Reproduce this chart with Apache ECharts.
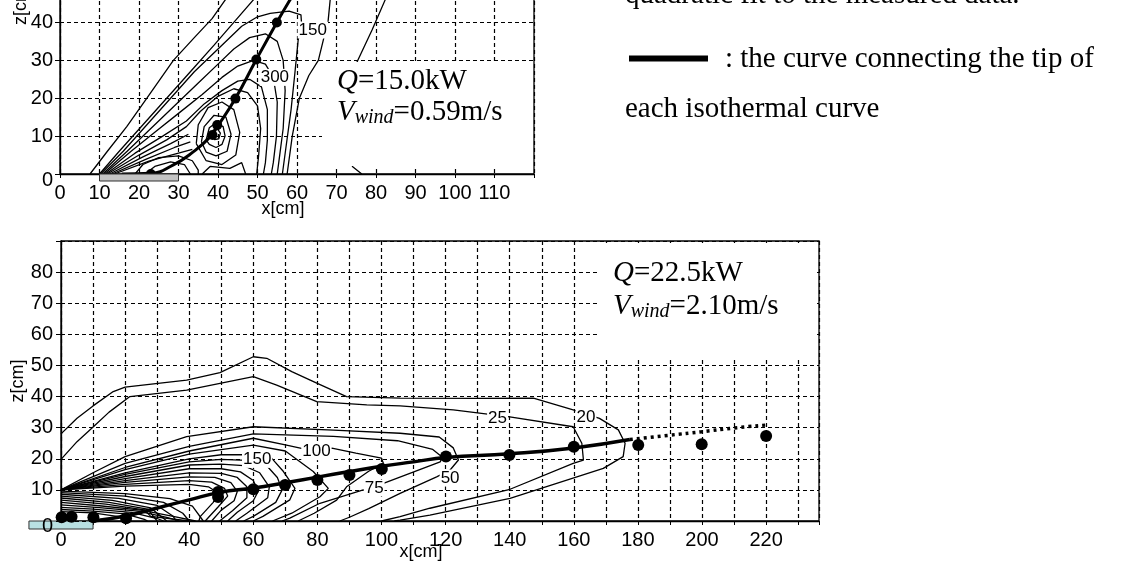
<!DOCTYPE html>
<html><head><meta charset="utf-8">
<script src="https://cdn.jsdelivr.net/npm/echarts@6/dist/echarts.min.js"></script>
<style>html,body{margin:0;padding:0;background:#fff}#c{width:1130px;height:571px}</style>
</head><body><div id="c"></div>
<script>
// ================= DATA =================
// tick labels
const topXTickLabels = [0,10,20,30,40,50,60,70,80,90,100,110];
const topZTickLabels = [0,10,20,30,40,50,60,70,80];
const botXTickLabels = [0,20,40,60,80,100,120,140,160,180,200,220];
const botZTickLabels = [0,10,20,30,40,50,60,70,80];

// top panel (Q=15.0kW, Vwind=0.59m/s) : isothermal curves [x cm, z cm]
const topContours = [
  [[7.6,0],[12,6],[16.9,12.5],[22,20],[28.7,30],[34,36],[38.5,41],[41.8,45.9],[45,50]],
  [[10,0],[15,6],[21,13],[27,20],[33,27],[39,34],[44,40],[48.9,45.9],[52,50]],
  [[10.3,0],[16,6],[22,13],[28,20],[34,27],[40,33],[46,39],[50,41.5],[53.2,42.4],[58,43],[61,42],[61.2,39],[60.3,35.4],[59.5,27],[58.5,17],[57.2,7],[56.3,0]],
  [[57.5,0],[58.8,10],[60.6,20],[63,26],[65.4,30],[67.9,40.6],[68.4,46],[68,52]],
  [[10.8,0],[17,6],[23,12],[29,18],[35,24],[40,29],[44,33],[48,36],[52,37],[55,35],[56.5,30],[57,22],[56.5,12],[55.5,4],[55,0]],
  [[11.2,0],[18,6],[24,11],[30,16],[36,21],[41,25.5],[45,28.5],[49,30],[52,29],[54,25.5],[55,19],[54.8,10],[54,3],[53.5,0]],
  [[11.6,0],[19,5.5],[26,10],[32,14],[36.5,18.5],[41,22],[45,24.5],[48,25],[51,23],[52.5,17],[52.5,9],[52,3],[51.5,0]],
  [[12,0],[20,5],[27,9],[32,12.5],[35.5,16.5],[40,20.5],[44,22.5],[47.5,21.5],[50,18],[50.8,12],[50.3,5],[49.8,0]],
  [[12.6,0],[21,4.5],[28,8],[32.5,10.5]],
  [[13.2,0],[22,4],[29,7],[33,8.5]],
  [[13.8,0],[22.5,3.4],[30,5.5],[33.5,6.5]],
  [[34.5,8],[35,13],[37.5,17.5],[41,19],[44,17],[45.5,11],[44.5,5],[41,2.5],[37,3.5],[34.5,8]],
  [[35.8,8.5],[36.5,12.5],[39,15.5],[42,15],[43.3,10.5],[42.3,6],[39.5,4.8],[37,5.8],[35.8,8.5]],
  [[37,9],[37.8,12.2],[39.5,13.5],[41.3,12.5],[41.8,10],[41,7.8],[39.5,7],[37.8,7.8],[37,9]],
  [[38.3,10],[38.8,11.6],[39.8,12],[40.6,10.8],[40.2,9.3],[39.1,9.1],[38.3,10]],
  [[19,0],[21,2.5],[25,4.3],[30,4.8],[33.5,3.5],[35,1],[35,0]],
  [[21.5,0],[24,2],[28,3.2],[31.5,2.5],[33,0]],
  [[36,0],[38,2],[43,1.5],[46,3],[47,0]],
  [[76.4,0],[74.1,1.9],[72,6],[71,14],[72,22],[75.4,30],[79,38],[82.3,45.9],[85,52]]
];
const topContourLabels = [['150',64,38],['300',54.4,25.5]];
const topTipPoints = [[23,0],[38.6,10.3],[39.8,12.9],[44.4,19.9],[49.7,30.2],[54.9,40.0]];
const topTipCurve = [[15.6,0],[23,0.2],[28.7,2.4],[33.8,5.9],[38,9.8],[40.1,12.9],[44.4,19.9],[49.7,30.2],[54.9,40],[58.2,45.9],[61,50.5]];
const topBurner = [[10,30]];

// bottom panel (Q=22.5kW, Vwind=2.10m/s)
const botContours = [
  [[0,28],[5,33],[10,37],[16.3,41.6],[20,43],[39.2,45.3],[49.6,47.7],[60,52.8],[64.2,52.3],[72,48],[79.8,44.3],[89.1,40],[105.8,39.5],[130,39.4],[147.4,39.5],[159.8,35.7],[168,33],[173.9,29.3],[176,25],[175.4,20.7],[169.2,16.9],[140.1,7.3],[115.1,1.9],[105.8,0.3],[104,0]],
  [[0,19.8],[5,25.5],[10.1,30.3],[15,35],[21.5,40],[39.2,42.1],[60,46.4],[67.3,43.7],[79.8,38.4],[95.4,37.3],[105.8,37],[122.4,35.7],[140,33.5],[159.8,30.3],[162.5,25],[163,19.6],[159.8,18.5],[140.1,10.2],[115.1,4.1],[105.8,1.4],[100,0]],
  [[0,10],[10,15.5],[20,20.7],[39.2,27.1],[60,30.3],[85,29.2],[105.8,28.2],[118,27],[122.4,23.5],[124,19.6],[121.4,16.4],[117.2,14.2],[105.8,8.9],[96,4],[90,1.2],[87,0]],
  [[0,10],[20,18.5],[40,24],[60,28],[85,27.2],[105,25.8],[116,23],[119,20.5],[118.3,19],[100.6,12.1],[97.7,10.6],[94.3,10],[80.8,5.7],[71.4,0.9],[69,0]],
  [[0,10],[20,17.2],[40,22.5],[60,26.6],[70,24.5],[79.7,22.3],[84.5,23.4],[92,21.8],[100,20.2],[100.6,18.5],[96,16],[89.1,11],[86,6.7],[79,2.5],[74,0]],
  [[0,10],[20,16.5],[40,21.5],[60,24.4],[70,22.5],[78.7,15.9],[83.4,10.5],[80.8,7.8],[72,2.5],[66,0]],
  [[0,10],[20,15.5],[40,20],[50,21.3],[58,21.3],[65.7,20.2],[69.4,15.9],[73,10.5],[71.4,6.8],[63,1.5],[60,0]],
  [[0,10],[20,15],[40,19],[50,19.8],[58,19.5],[64,18],[67.5,14],[69,10],[67,6],[60,1.5],[57,0]],
  [[0,10],[20,14.3],[40,18],[50,18.3],[57,17.8],[62,15.5],[65,11],[64.5,7.5],[58,2.5],[54.5,0]],
  [[0,10],[20,13.6],[40,16.8],[50,16.8],[56,15.8],[60,13],[61.5,9.5],[60,6.5],[55,2.8],[52,0]],
  [[0,10],[20,13],[40,15.5],[50,15.3],[55,14],[58,11],[58,7.5],[53.5,3.3],[49.5,0]],
  [[0,10],[20,12.4],[40,14.2],[48,14],[53,12.3],[55,9.5],[54,6.5],[50,3.5],[47,0]],
  [[0,10],[20,11.8],[40,13],[47,12.5],[51,10.5],[52,8],[49,4.5],[45,0]],
  [[0,10],[20,11.2],[40,11.8],[46,11],[49,9],[47.5,6],[43.5,1.5],[43,0]],
  [[0,9.6],[20,8.8],[34,7.2],[41,4.8],[44.4,0]],
  [[0,9.1],[20,8],[32,6],[38,2.5],[40,0]],
  [[0,8.6],[18,7.3],[30,5],[35,1.5],[36,0]],
  [[0,8],[16,6.6],[28,4.2],[33,0]],
  [[0,7.4],[15,6],[27,3.8],[30,0]],
  [[0,6.7],[14,5.4],[26,3.6],[28,1.5],[40,0]],
  [[0,6],[12,4.9],[25,3.5],[35,1.5],[42,0]],
  [[0,5.2],[12,4.3],[24,3.2],[33,1.2],[37,0]],
  [[0,4.4],[10,3.8],[22,2.8],[30,0.8],[32,0]],
  [[0,3.7],[10,3.2],[20,2.3],[26,0.5],[27,0]],
  [[0,3],[10,2.6],[18,1.4],[22,0]]
];
const botContourLabels = [['20',163.8,33.4],['25',136.2,33],['100',79.7,22.3],['150',61.2,19.8],['75',97.7,10.6],['50',121.4,13.8]];
const botTipPoints = [[0.2,1.2],[3.3,1.4],[10.1,1.2],[20.3,0.9],[49,9.3],[49,7.7],[60,10.2],[69.9,11.6],[80,13.2],[90,14.8],[100.1,16.7],[120.1,20.7],[139.9,21.2],[160,23.9],[180.1,24.4],[199.9,24.7],[220,27.3]];
const botTipCurve = [[10,0],[20,1.6],[30,4.2],[40,6.8],[49.6,9.2],[60,10.6],[70,12.3],[80,14.1],[90,15.9],[100,17.6],[110,19],[120,20.4],[140,21.6],[160,23.5],[177.5,26.2]];
const botExtrapolation = [[177.5,26.2],[190,27.6],[199.9,28.7],[210,29.9],[220.7,30.9]];
const botBurner = [[-10,10]];

// texts
const topCaseText = ['{i|Q}{n|=15.0kW}', '{i|V}{s|wind}{n|=0.59m/s}'];
const botCaseText = ['{i|Q}{n|=22.5kW}', '{i|V}{s|wind}{n|=2.10m/s}'];
const noteLines = ['quadratic fit to the measured data.', ': the curve connecting the tip of', 'each isothermal curve'];

// ================= CHART =================
const chart = echarts.init(document.getElementById('c'), null, {renderer:'canvas'});
const TICK_FONT = "'Liberation Sans Narrow','Arial Narrow','Liberation Sans',Arial,sans-serif";
const SANS = "'Liberation Sans',Arial,sans-serif";
const SERIF = "'Liberation Serif','Times New Roman',serif";
const CONTOUR_W = 1.3;

function xAxisCfg(gridIndex, max, labels, nameGap, namePad) {
  return {
    type:'value', gridIndex, min:0, max, interval:10,
    name:'x[cm]', nameLocation:'middle', nameGap, nameMoveOverlap:false,
    nameTextStyle:{fontFamily:SANS, fontSize:18, color:'#000', padding:namePad},
    axisLine:{show:true, lineStyle:{color:'#000', width:1.3}},
    axisTick:{show:true, length:4, inside:false, lineStyle:{color:'#000'}},
    axisLabel:{margin:9, color:'#000', fontFamily:TICK_FONT, fontSize:20,
      formatter:v => labels.includes(v) ? String(v) : ''},
    splitLine:{show:true, lineStyle:{color:'#000', width:1.2, type:[4,3]}}
  };
}
function yAxisCfg(gridIndex, labels, nameGap, zeroPad, margin, z) {
  return {
    type:'value', gridIndex, min:0, max:90, interval:10, z,
    name:'z[cm]', nameLocation:'middle', nameGap, nameMoveOverlap:false,
    nameTextStyle:{fontFamily:SANS, fontSize:18, color:'#000'},
    axisLine:{show:true, lineStyle:{color:'#000', width:1.3}},
    axisTick:{show:true, length:5, inside:false, lineStyle:{color:'#000'}},
    axisLabel:{margin, color:'#000', fontFamily:TICK_FONT, fontSize:20,
      formatter:v => v === 0 ? '{o|0}' : (labels.includes(v) ? String(v) : ''),
      rich:{o:{fontFamily:TICK_FONT, fontSize:20, color:'#000', padding:[zeroPad,0,0,0]}}},
    splitLine:{show:true, lineStyle:{color:'#000', width:1.2, type:[4,3]}}
  };
}

const series = [];
function addContours(list, gi, w) {
  list.forEach(c => series.push({type:'line', xAxisIndex:gi, yAxisIndex:gi, data:c,
    symbol:'none', smooth:false, silent:true, lineStyle:{color:'#000', width:w}, z:2}));
}
addContours(topContours, 0, CONTOUR_W);
addContours(botContours, 1, CONTOUR_W);

function addLabels(list, gi) {
  series.push({type:'scatter', xAxisIndex:gi, yAxisIndex:gi, symbolSize:1,
    itemStyle:{color:'#fff', opacity:1}, silent:true, z:4,
    data:list.map(l => ({value:[l[1], l[2]], name:l[0]})),
    label:{show:true, position:'inside', formatter:p => p.name, color:'#000', opacity:1,
      fontFamily:SANS, fontSize:17, backgroundColor:'#fff', padding:[0,1]}});
}
addLabels(topContourLabels, 0);
addLabels(botContourLabels, 1);

// curves through the tips
series.push({type:'line', xAxisIndex:0, yAxisIndex:0, data:topTipCurve, symbol:'none', smooth:true,
  lineStyle:{color:'#000', width:3}, z:5});
series.push({type:'line', xAxisIndex:1, yAxisIndex:1, data:botTipCurve, symbol:'none', smooth:true,
  lineStyle:{color:'#000', width:3.5}, z:5});
series.push({type:'line', xAxisIndex:1, yAxisIndex:1, data:botExtrapolation, symbol:'none', smooth:true,
  lineStyle:{color:'#000', width:3.5, type:[3,4]}, z:5});
// measured tip points
series.push({type:'scatter', xAxisIndex:0, yAxisIndex:0, data:topTipPoints, symbol:'circle', symbolSize:10,
  itemStyle:{color:'#000', opacity:1}, z:6});
series.push({type:'scatter', xAxisIndex:1, yAxisIndex:1, data:botTipPoints, symbol:'circle', symbolSize:12,
  itemStyle:{color:'#000', opacity:1}, z:6});

// burners
function burner(data, gi, fill, depth, z) {
  return {type:'custom', xAxisIndex:gi, yAxisIndex:gi, clip:false, data, z, silent:true,
    renderItem:(params, api) => {
      const p0 = api.coord([api.value(0), 0]);
      const p1 = api.coord([api.value(1), 0]);
      return {type:'rect', shape:{x:p0[0], y:p0[1], width:p1[0]-p0[0], height:depth},
        style:{fill, stroke:'#333', lineWidth:1}};
    }};
}
series.push(burner(topBurner, 0, '#c4c4c4', 7, 7));
series.push(burner(botBurner, 1, '#b9e0e2', 8, 1));

const caseRich = {
  i:{fontFamily:SERIF, fontStyle:'italic', fontSize:29, color:'#000', lineHeight:32},
  s:{fontFamily:SERIF, fontStyle:'italic', fontSize:20, color:'#000', lineHeight:20, verticalAlign:'bottom'},
  n:{fontFamily:SERIF, fontSize:29, color:'#000', lineHeight:32}
};
function caseText(x, y, t) {
  return {type:'text', x, y, z:100, style:{text:t, rich:caseRich, verticalAlign:'top', align:'left'}};
}

chart.setOption({
  animation:false,
  backgroundColor:'#fff',
  grid:[
    {left:60, top:-167, width:474, height:341, show:true, borderColor:'#000', borderWidth:1.3, containLabel:false, outerBoundsMode:'none'},
    {left:61, top:241, width:758, height:280, show:true, borderColor:'#000', borderWidth:1.3, containLabel:false, outerBoundsMode:'none'}
  ],
  xAxis:[xAxisCfg(0, 120, topXTickLabels, 26, [0,28,0,0]), xAxisCfg(1, 236.5, botXTickLabels, 22, [0,38,0,0])],
  yAxis:[yAxisCfg(0, topZTickLabels, 30, 12, 7, 0), yAxisCfg(1, botZTickLabels, 34, 10, 8, 3)],
  series,
  graphic:{elements:[
    {type:'rect', z:50, shape:{x:322, y:62, width:211, height:104}, style:{fill:'#fff'}},
    {type:'rect', z:50, shape:{x:600, y:243, width:215, height:114}, style:{fill:'#fff'}},
    caseText(337, 65, topCaseText[0]),
    caseText(337, 96, topCaseText[1]),
    caseText(613, 257, botCaseText[0]),
    caseText(613, 290, botCaseText[1]),
    {type:'text', x:625, y:-19, z:100, style:{text:noteLines[0], fontFamily:SERIF, fontSize:29, fill:'#000', verticalAlign:'top'}},
    {type:'line', z:100, shape:{x1:629, y1:58.5, x2:708, y2:58.5}, style:{stroke:'#000', lineWidth:6}},
    {type:'text', x:725, y:45, z:100, style:{text:noteLines[1], fontFamily:SERIF, fontSize:29, fill:'#000', verticalAlign:'top'}},
    {type:'text', x:625, y:95, z:100, style:{text:noteLines[2], fontFamily:SERIF, fontSize:29, fill:'#000', verticalAlign:'top'}}
  ]}
});
</script>
</body></html>
